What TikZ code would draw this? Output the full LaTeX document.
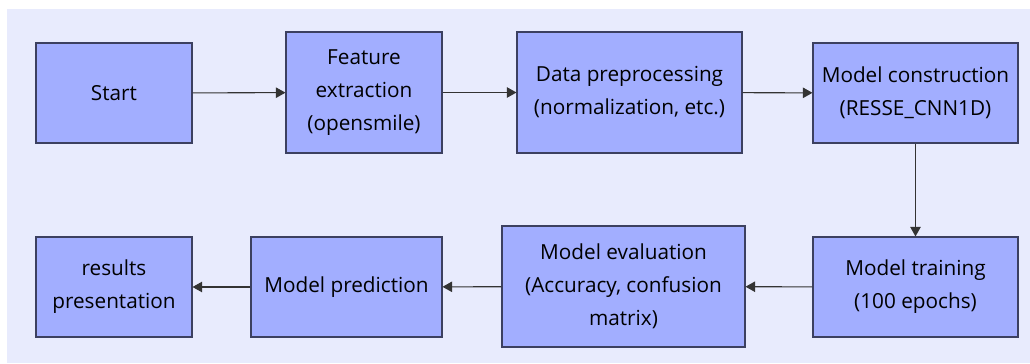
\documentclass[tikz,border=0pt]{standalone}
\usepackage{fontspec}
\setmainfont{Open Sans}
\usetikzlibrary{positioning, arrows.meta}
\definecolor{bgcol}{HTML}{E8EBFD}
\definecolor{boxcol}{HTML}{A2AEFF}
\definecolor{edgecol}{HTML}{3C4060}
\definecolor{linecol}{HTML}{333333}
\tikzset{
	stepbox/.style={draw=edgecol, fill=boxcol, line width=0.6pt, align=center, inner sep=0pt,
		font=\fontsize{11.8}{18.8}\selectfont},
	flow/.style={draw=linecol, line width=0.6pt, -{Triangle[length=5.5pt,width=6pt]}}
}

\begin{document}
\begin{tikzpicture}
	% Canvas
	\useasboundingbox (0,0) rectangle (20.6,7.26);
	\fill[bgcol] (0.14,0) rectangle (20.6,7.08);
	% Top row
	\node[stepbox, minimum width=3.12cm, minimum height=2cm] (start) at (2.28,5.40) {Start};
	\node[stepbox, minimum width=3.12cm, minimum height=2.42cm] (feat) at (7.28,5.41) {Feature\\extraction\\(opensmile)};
	\node[stepbox, minimum width=4.5cm, minimum height=2.42cm] (prep) at (12.59,5.41) {Data preprocessing\\(normalization, etc.)};
	\node[stepbox, minimum width=4.1cm, minimum height=2cm] (build) at (18.31,5.40) {Model construction\\(RESSE\_CNN1D)};
	% Bottom row
	\node[stepbox, minimum width=4.1cm, minimum height=2cm] (train) at (18.31,1.52) {Model training\\(100 epochs)};
	\node[stepbox, minimum width=4.86cm, minimum height=2.42cm] (eval) at (12.47,1.53) {Model evaluation\\(Accuracy, confusion\\matrix)};
	\node[stepbox, minimum width=3.82cm, minimum height=2cm] (pred) at (6.93,1.52) {Model prediction};
	\node[stepbox, minimum width=3.12cm, minimum height=2cm] (result) at (2.28,1.52) {results\\presentation};
	% Arrows
	\draw[flow] (start) -- (feat);
	\draw[flow] (feat) -- (prep);
	\draw[flow] (prep) -- (build);
	\draw[flow] (build) -- (train);
	\draw[flow] (train) -- (eval);
	\draw[flow] (eval) -- (pred);
	\draw[flow] (pred) -- (result);
\end{tikzpicture}
\end{document}
